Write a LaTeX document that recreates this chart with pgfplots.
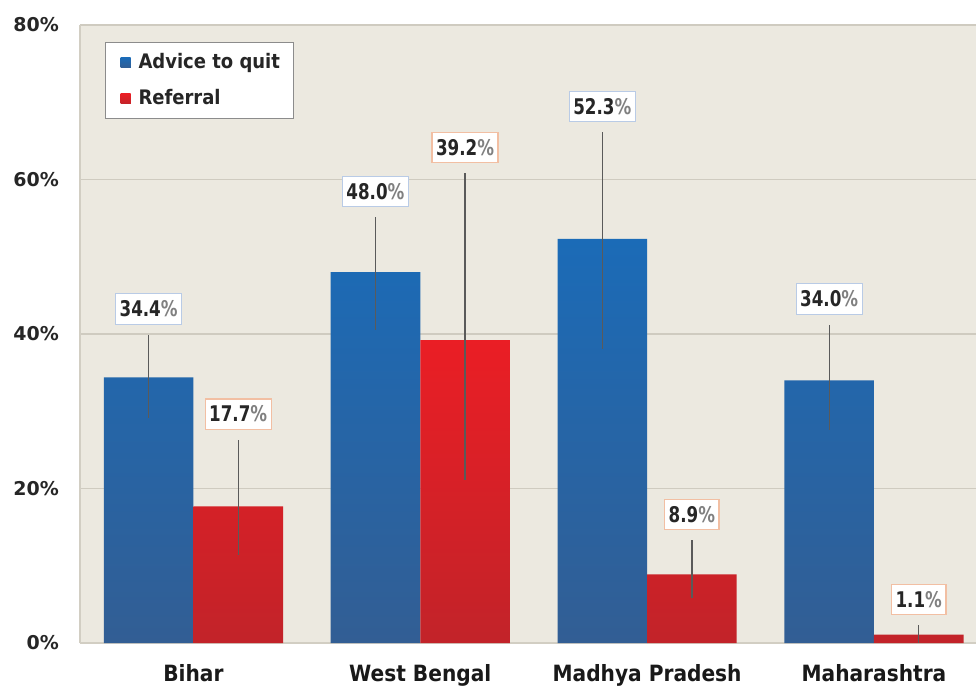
\documentclass[border=0pt]{standalone}
\usepackage{pgfplots}
\pgfplotsset{compat=1.18}
\usepackage{fontspec}
\setmainfont{DejaVu Sans}
\newfontfamily\cond{DejaVu Sans Condensed}
\newfontfamily\labfont[FakeStretch=0.86]{DejaVu Sans Condensed}
\definecolor{bg}{HTML}{ECE9E0}
\definecolor{gridc}{HTML}{CFCBC0}
\definecolor{axisc}{HTML}{D2CEC3}
\definecolor{blueT}{HTML}{1B6BB7}
\definecolor{blueM}{HTML}{1566B3}
\definecolor{blueB}{HTML}{325E94}
\definecolor{redT}{HTML}{EA1E25}
\definecolor{redM}{HTML}{E32027}
\definecolor{redB}{HTML}{C22329}
\definecolor{errc}{HTML}{5A5A5A}
\definecolor{advbox}{HTML}{B9CBE6}
\definecolor{refbox}{HTML}{F2BFA3}
\begin{document}
\begin{tikzpicture}
\begin{axis}[
    name=ax,
    scale only axis,
    width=448pt, height=309pt,
    xmin=-0.5, xmax=3.45,
    ymin=0, ymax=80,
    ytick={0,20,40,60,80},
    yticklabels={0\%,20\%,40\%,60\%,80\%},
    xtick={0,1,2,3},
    xticklabels={Bihar,West Bengal,Madhya Pradesh,Maharashtra},
    ymajorgrids,
    grid style={gridc, line width=0.6pt},
    major tick length=0pt,
    axis x line*=bottom, axis y line*=left,
    axis line style={draw=axisc, line width=0.6pt, -},
    axis background/.style={fill=bg},
    yticklabel style={font=\bfseries\fontsize{9.5}{10}\selectfont, text=black!85, xshift=-7pt},
    xticklabel style={font=\cond\bfseries\fontsize{11.2}{12}\selectfont, text=black!90, yshift=-7pt},
    legend style={at={(0,1)}, anchor=north west, xshift=12.5pt, yshift=-8.5pt,
        draw=black!45, fill=white, line width=0.5pt,
        font=\cond\bfseries\fontsize{10}{12}\selectfont, text=black!85,
        inner xsep=4.5pt, inner ysep=3.5pt, row sep=5pt},
    legend cell align=left,
]
\addplot[ybar, bar width=0.395, bar shift=0, draw=none,
    top color=blueT, middle color=blueM, bottom color=blueB,
    legend image code/.code={\fill[blueM] (3pt,-2.5pt) rectangle (8pt,2.5pt); \path (0pt,0pt) -- (10pt,0pt);},
    error bars/.cd, y dir=both, y explicit, error mark=none,
    error bar style={draw=errc, line width=0.6pt}]
coordinates {
    (-0.1975,34.4) += (0,5.5)  -= (0,5.3)
    (0.8025,48.0)  += (0,7.1)  -= (0,7.5)
    (1.8025,52.3)  += (0,13.8) -= (0,14.2)
    (2.8025,34.0)  += (0,7.2)  -= (0,6.4)
};
\addlegendentry{Advice to quit}
\addplot[ybar, bar width=0.395, bar shift=0, draw=none,
    top color=redT, middle color=redM, bottom color=redB,
    legend image code/.code={\fill[redT] (3pt,-2.5pt) rectangle (8pt,2.5pt); \path (0pt,0pt) -- (10pt,0pt);},
    error bars/.cd, y dir=both, y explicit, error mark=none,
    error bar style={draw=errc, line width=0.6pt}]
coordinates {
    (0.1975,17.7) += (0,8.6)  -= (0,6.3)
    (1.1975,39.2) += (0,21.6) -= (0,18.1)
    (2.1975,8.9)  += (0,4.4)  -= (0,3.1)
    (3.1975,1.1)  += (0,1.2)  -= (0,1.1)
};
\addlegendentry{Referral}
% value labels, placed above the upper end of each error bar
\addplot[draw=none, mark=none, forget plot,
    nodes near coords={\pgfplotspointmeta\textcolor{black!50}{\%}},
    point meta=explicit symbolic,
    nodes near coords style={anchor=south, yshift=5pt, fill=white, draw=advbox,
        line width=0.6pt, inner xsep=2pt, inner ysep=3.5pt,
        font=\labfont\bfseries\fontsize{10.8}{12}\selectfont, text=black!85}]
coordinates {
    (-0.1975,39.9) [34.4]
    (0.8025,55.1) [48.0]
    (1.8025,66.1) [52.3]
    (2.8025,41.2) [34.0]
};
\addplot[draw=none, mark=none, forget plot,
    nodes near coords={\pgfplotspointmeta\textcolor{black!50}{\%}},
    point meta=explicit symbolic,
    nodes near coords style={anchor=south, yshift=5pt, fill=white, draw=refbox,
        line width=0.6pt, inner xsep=2pt, inner ysep=3.5pt,
        font=\labfont\bfseries\fontsize{10.8}{12}\selectfont, text=black!85}]
coordinates {
    (0.1975,26.3) [17.7]
    (1.1975,60.8) [39.2]
    (2.1975,13.3) [8.9]
    (3.1975,2.3) [1.1]
};
\end{axis}
\pgfresetboundingbox
\useasboundingbox ([xshift=-40pt,yshift=-21pt]ax.south west) rectangle ([yshift=12.5pt]ax.north east);
\end{tikzpicture}
\end{document}
